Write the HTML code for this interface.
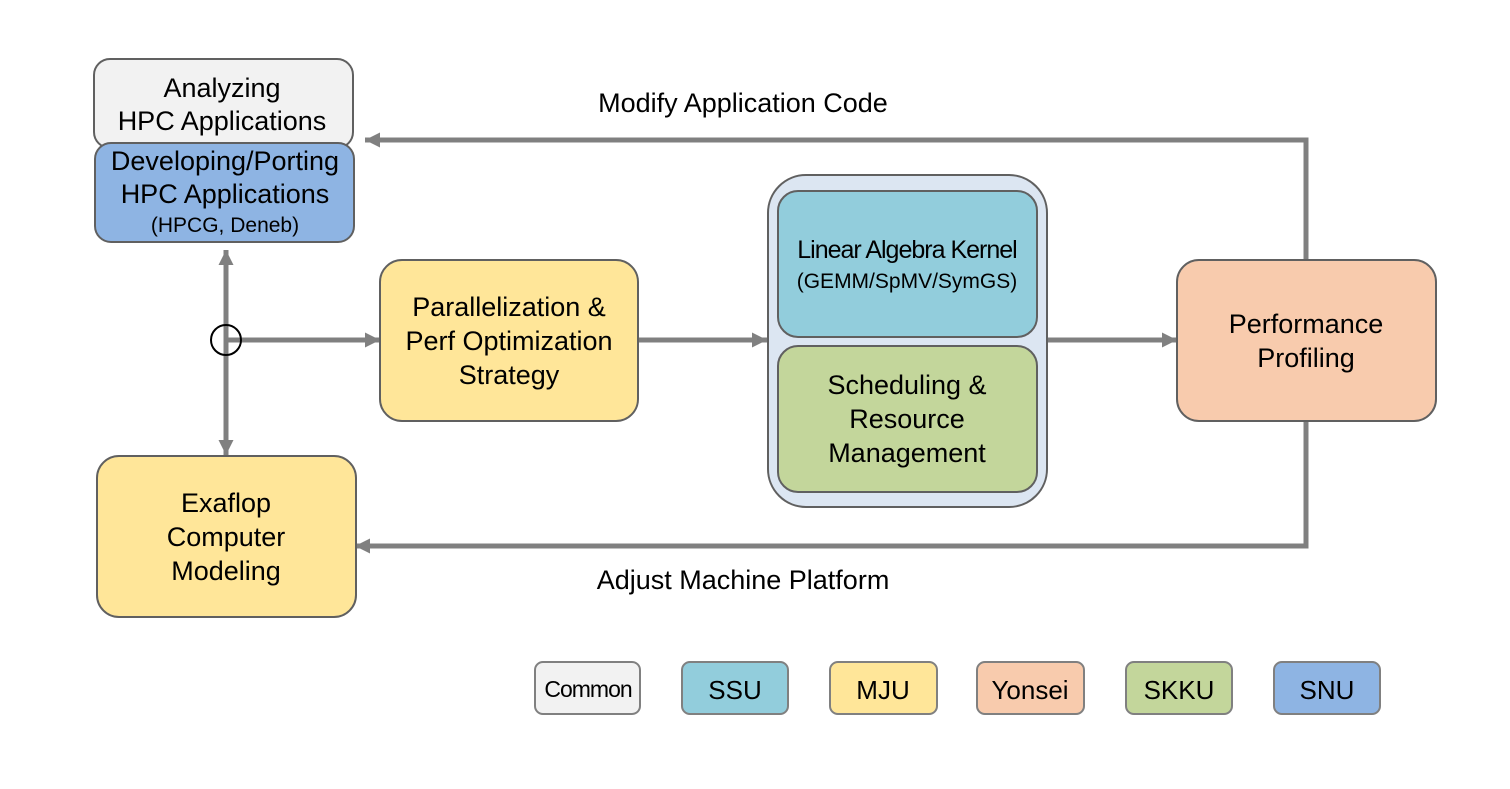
<!DOCTYPE html>
<html><head><meta charset="utf-8"><style>
html,body{margin:0;padding:0;background:#fff;}
svg{display:block;}
text{font-family:"Liberation Sans","Noto Sans CJK KR",sans-serif;fill:#000;}
</style></head><body>
<svg width="1510" height="789" viewBox="0 0 1510 789" xmlns="http://www.w3.org/2000/svg">
<defs>
<marker id="ah" markerWidth="3" markerHeight="3" refX="3" refY="1.5" orient="auto" markerUnits="strokeWidth">
<path d="M0,0 L3,1.5 L0,3 z" fill="#808080"/></marker>
</defs>
<g stroke="#808080" stroke-width="5" fill="none">
<line x1="226" y1="340" x2="226" y2="250" marker-end="url(#ah)"/>
<line x1="226" y1="340" x2="226" y2="455" marker-end="url(#ah)"/>
<line x1="226" y1="340" x2="380" y2="340" marker-end="url(#ah)"/>
<line x1="638" y1="340" x2="767" y2="340" marker-end="url(#ah)"/>
<line x1="1047" y1="340" x2="1177" y2="340" marker-end="url(#ah)"/>
<polyline points="1306,260 1306,140 365,140" marker-end="url(#ah)"/>
<polyline points="1306,421 1306,546 355,546" marker-end="url(#ah)"/>
</g>
<circle cx="226" cy="340" r="15" fill="none" stroke="#000" stroke-width="2"/>
<g stroke="#606060" stroke-width="2">
<rect x="94" y="59" width="259" height="89" rx="16" fill="#f2f2f2"/>
<rect x="95" y="143" width="259" height="99" rx="16" fill="#8eb4e3"/>
<rect x="380" y="260" width="258" height="161" rx="22" fill="#ffe699"/>
<rect x="768" y="175" width="279" height="332" rx="38" fill="#dce6f2"/>
<rect x="778" y="191" width="259" height="146" rx="20" fill="#92cddc"/>
<rect x="778" y="346" width="259" height="146" rx="20" fill="#c3d69b"/>
<rect x="1177" y="260" width="259" height="161" rx="22" fill="#f8cbad"/>
<rect x="97" y="456" width="259" height="161" rx="22" fill="#ffe699"/>
</g>
<g stroke="#808080" stroke-width="2">
<rect x="535" y="662" width="105" height="52" rx="8" fill="#f2f2f2"/>
<rect x="682" y="662" width="106" height="52" rx="8" fill="#92cddc"/>
<rect x="830" y="662" width="107" height="52" rx="8" fill="#ffe699"/>
<rect x="977" y="662" width="107" height="52" rx="8" fill="#f8cbad"/>
<rect x="1126" y="662" width="106" height="52" rx="8" fill="#c3d69b"/>
<rect x="1274" y="662" width="106" height="52" rx="8" fill="#8eb4e3"/>
</g>
<g font-size="27" text-anchor="middle">
<text x="222" y="97">Analyzing</text>
<text x="222" y="130">HPC Applications</text>
<text x="225" y="170">Developing/Porting</text>
<text x="225" y="203">HPC Applications</text>
<text x="225" y="232" font-size="21">(HPCG, Deneb)</text>
<text x="509" y="316">Parallelization &amp;</text>
<text x="509" y="350">Perf Optimization</text>
<text x="509" y="384">Strategy</text>
<text x="907" y="258" font-size="25" letter-spacing="-1">Linear Algebra Kernel</text>
<text x="907" y="288" font-size="21">(GEMM/SpMV/SymGS)</text>
<text x="907" y="394">Scheduling &amp;</text>
<text x="907" y="428">Resource</text>
<text x="907" y="462">Management</text>
<text x="1306" y="333">Performance</text>
<text x="1306" y="367">Profiling</text>
<text x="226" y="512">Exaflop</text>
<text x="226" y="546">Computer</text>
<text x="226" y="580">Modeling</text>
<text x="743" y="112" font-size="27">Modify Application Code</text>
<text x="743" y="589" font-size="27">Adjust Machine Platform</text>
<text x="588" y="697" font-size="23" letter-spacing="-1">Common</text>
<text x="735" y="699" font-size="26">SSU</text>
<text x="883" y="699" font-size="26">MJU</text>
<text x="1030" y="699" font-size="26">Yonsei</text>
<text x="1179" y="699" font-size="26">SKKU</text>
<text x="1327" y="699" font-size="26">SNU</text>
</g>
</svg>
</body></html>
